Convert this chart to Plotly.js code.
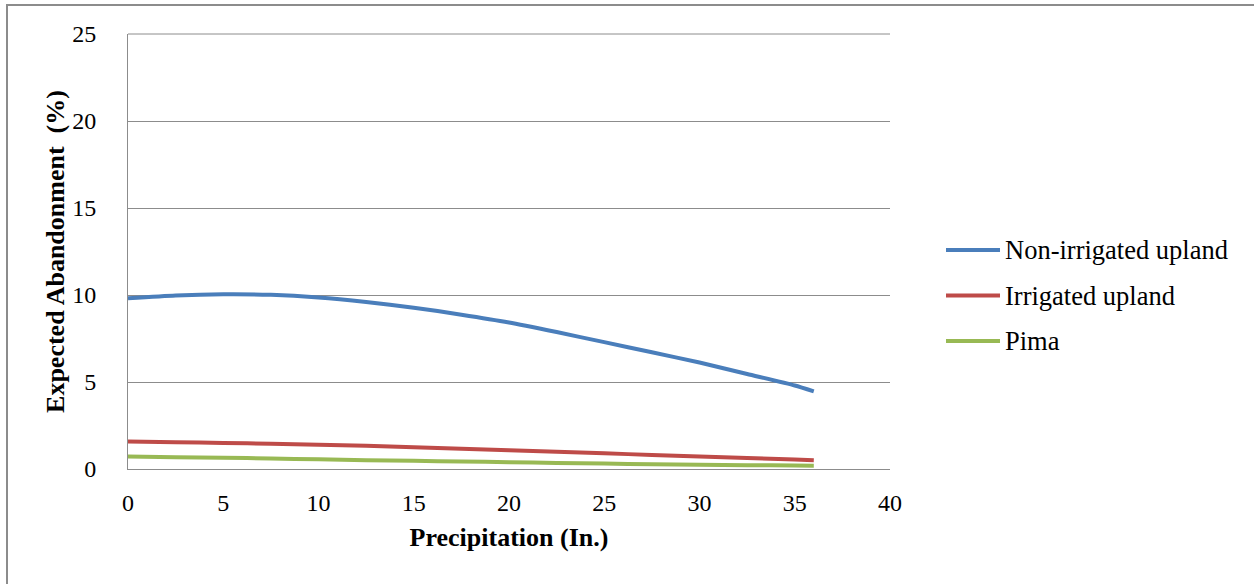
<!DOCTYPE html>
<html>
<head>
<meta charset="utf-8">
<script src="https://cdn.plot.ly/plotly-3.0.1.min.js"></script>
<style>
  html, body { margin: 0; padding: 0; background: #fff; overflow: hidden; }
  #frame { position: absolute; left: 6px; top: 4px; width: 1300px; height: 700px;
           border-left: 2px solid #8c8c8c; border-top: 2px solid #8c8c8c; pointer-events: none; }
  #chart { position: absolute; left: 0; top: 0; width: 1254px; height: 584px; }
</style>
</head>
<body>
<div id="chart"></div>
<div id="frame"></div>
<script>
// Precipitation (inches) and expected abandonment (%) by cotton type
const precip = [0, 2.5, 5, 7.5, 10, 12.5, 15, 17.5, 20, 22.5, 25, 27.5, 30, 32.5, 35, 36];
const nonIrrigatedUpland = [9.81, 9.97, 10.04, 10.01, 9.86, 9.60, 9.27, 8.87, 8.42, 7.87, 7.29, 6.71, 6.12, 5.46, 4.80, 4.46];
const irrigatedUpland = [1.58, 1.54, 1.50, 1.45, 1.40, 1.33, 1.25, 1.17, 1.08, 0.99, 0.90, 0.81, 0.72, 0.63, 0.55, 0.51];
const pima = [0.72, 0.68, 0.65, 0.60, 0.56, 0.51, 0.47, 0.43, 0.39, 0.35, 0.31, 0.28, 0.25, 0.22, 0.20, 0.19];

const seriesNames = ['Non-irrigated upland', 'Irrigated upland', 'Pima'];
const seriesColors = ['#4a7ebb', '#be4b48', '#98b954'];
const seriesValues = [nonIrrigatedUpland, irrigatedUpland, pima];

const xTicks = [0, 5, 10, 15, 20, 25, 30, 35, 40];
const yTicks = [0, 5, 10, 15, 20, 25];

const serif = 'Liberation Serif, Times New Roman, serif';

const traces = seriesValues.map((vals, i) => ({
  x: precip,
  y: vals,
  type: 'scatter',
  mode: 'lines',
  name: seriesNames[i],
  line: { color: seriesColors[i], width: 4, shape: 'spline', smoothing: 0.6 },
  showlegend: false,
  hoverinfo: 'skip'
}));

// Legend drawn beside the plot: line swatch followed by the series name
const legendShapes = [];
const legendNotes = [];
const legendY0 = 250, legendStep = 45.5;
const plotTop = 34, plotBottom = 469, plotLeft = 128, plotRight = 890;
function toPaperY(py) { return (plotBottom - py) / (plotBottom - plotTop); }
function toPaperX(px) { return (px - plotLeft) / (plotRight - plotLeft); }
seriesNames.forEach((name, i) => {
  const py = toPaperY(legendY0 + i * legendStep);
  legendShapes.push({
    type: 'line', xref: 'paper', yref: 'paper',
    x0: toPaperX(946), x1: toPaperX(1000), y0: py, y1: py,
    line: { color: seriesColors[i], width: 4 }
  });
  legendNotes.push({
    xref: 'paper', yref: 'paper', x: toPaperX(1003), y: py,
    xanchor: 'left', yanchor: 'middle', showarrow: false,
    text: name, font: { family: serif, size: 26.5, color: '#000' }
  });
});

const layout = {
  width: 1254,
  height: 584,
  margin: { l: plotLeft, r: 1254 - plotRight, t: plotTop, b: 584 - plotBottom, pad: 0 },
  paper_bgcolor: '#ffffff',
  plot_bgcolor: '#ffffff',
  font: { family: serif, size: 24, color: '#000' },
  xaxis: {
    range: [0, 40],
    tickvals: xTicks,
    ticktext: xTicks.map(String),
    showgrid: false,
    zeroline: false,
    showline: true,
    linecolor: '#8c8c8c',
    linewidth: 1,
    ticks: '',
    ticklabelstandoff: 12,
    tickfont: { family: serif, size: 24, color: '#000' },
    title: { text: '<b>Precipitation (In.)</b>', font: { family: serif, size: 26, color: '#000' }, standoff: 13 },
    fixedrange: true
  },
  yaxis: {
    range: [0, 25],
    tickvals: yTicks,
    ticktext: yTicks.map(String),
    showgrid: true,
    gridcolor: '#8c8c8c',
    gridwidth: 1,
    zeroline: false,
    showline: true,
    linecolor: '#8c8c8c',
    linewidth: 1,
    ticks: '',
    ticklabelstandoff: 26,
    tickfont: { family: serif, size: 24, color: '#000' },
    title: { text: '<b>Expected Abandonment  (%)</b>', font: { family: serif, size: 26, color: '#000' }, standoff: 0 },
    fixedrange: true
  },
  shapes: [
    { type: 'line', xref: 'paper', yref: 'paper', x0: 0, x1: 1, y0: 1, y1: 1,
      line: { color: '#8c8c8c', width: 1 }, layer: 'below' }
  ].concat(legendShapes),
  annotations: legendNotes,
  showlegend: false
};

Plotly.newPlot('chart', traces, layout, { displayModeBar: false, staticPlot: true });
</script>
</body>
</html>
